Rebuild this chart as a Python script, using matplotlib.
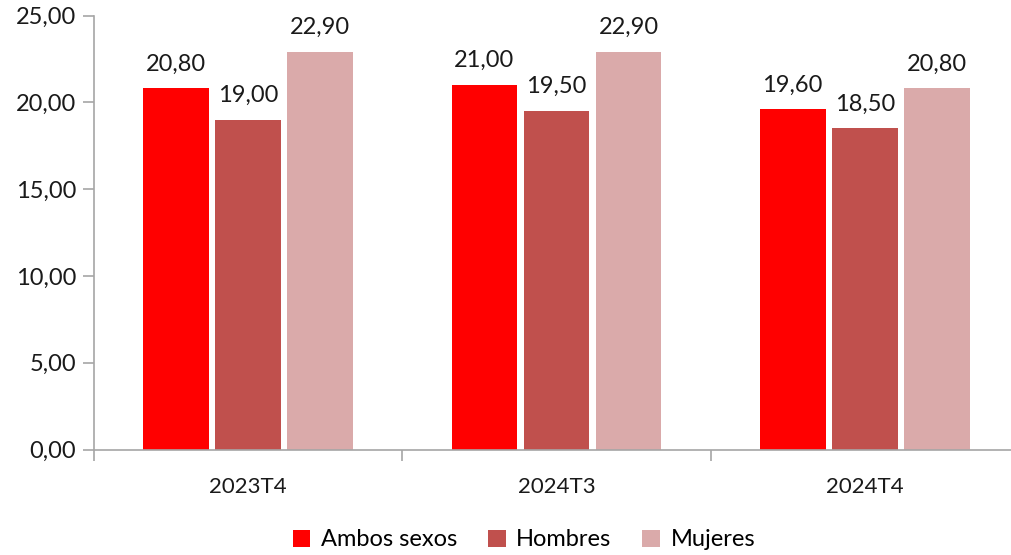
import numpy as np
import matplotlib
matplotlib.use("Agg")
import matplotlib.pyplot as plt

plt.rcParams['font.family'] = ['Lato', 'DejaVu Sans']

categorias = ['2023T4', '2024T3', '2024T4']
series = ['Ambos sexos', 'Hombres', 'Mujeres']
ambos = [20.80, 21.00, 19.60]
hombres = [19.00, 19.50, 18.50]
mujeres = [22.90, 22.90, 20.80]
colores = ['#FF0000', '#C0504D', '#DAAAAA']


def fmt(v):
    return f"{v:.2f}".replace('.', ',')


fig = plt.figure(figsize=(10.11, 5.55), dpi=100)
ax = fig.add_axes([94 / 1011, 0.19, 925 / 1011, 0.782])

x = np.arange(len(categorias))
ancho = 0.213
paso = 0.234
for i, (nombre, vals) in enumerate(zip(series, [ambos, hombres, mujeres])):
    pos = x + (i - 1) * paso
    barras = ax.bar(pos, vals, width=ancho, color=colores[i], label=nombre)
    for b, v in zip(barras, vals):
        ax.annotate(fmt(v), (b.get_x() + b.get_width() / 2, v),
                    xytext=(0, 10), textcoords='offset points',
                    ha='center', va='bottom', fontsize=17, color='#1a1a1a')

ax.set_xlim(-0.5, len(categorias) - 0.5)
ax.set_ylim(0, 25)
ax.set_yticks(np.arange(0, 26, 5))
ax.set_yticklabels([fmt(v) for v in np.arange(0, 26, 5)], fontsize=17, color='#1a1a1a')
ax.set_xticks(x)
ax.set_xticklabels(categorias, fontsize=16, color='#1a1a1a')
ax.set_xticks(np.arange(-0.5, len(categorias)), minor=True)

ax.tick_params(axis='x', which='major', length=0, pad=20)
ax.tick_params(axis='x', which='minor', length=8, color='#A6A6A6', width=1.2)
ax.tick_params(axis='y', length=8, color='#A6A6A6', width=1.2, pad=5)

for s in ['top', 'right']:
    ax.spines[s].set_visible(False)
for s in ['left', 'bottom']:
    ax.spines[s].set_color('#A6A6A6')
    ax.spines[s].set_linewidth(1.2)

fig.legend(loc='center', bbox_to_anchor=(524 / 1011, 1 - 540 / 555), ncol=3,
           frameon=False, fontsize=17, handlelength=0.75, handleheight=0.75,
           handletextpad=0.45, columnspacing=1.3)

fig.savefig('out.png', dpi=100)
